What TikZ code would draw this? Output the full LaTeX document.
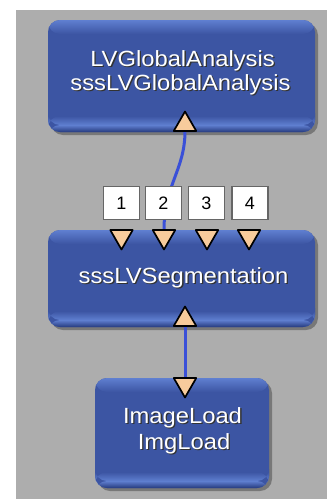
\documentclass[tikz,border=0pt]{standalone}
\usepackage{fontspec}
\newfontfamily\labfont[FakeStretch=1.08]{Liberation Sans}
\newfontfamily\numfont{Liberation Sans}
\usetikzlibrary{shapes.geometric,shadows,calc}
\definecolor{bg}{HTML}{ADADAD}
\definecolor{boxblue}{HTML}{3C55A3}
\definecolor{boxlight}{HTML}{5F7FD0}
\definecolor{boxdark}{HTML}{263A7E}
\definecolor{wire}{HTML}{3A50D8}
\definecolor{port}{HTML}{F7CB9C}
\newcommand\shtext[1]{\makebox[0pt][l]{\hspace{1.3pt}\raisebox{-1.3pt}{\color{black!80}#1}}#1}
\pgfdeclarelayer{back}
\pgfdeclarelayer{mid}
\pgfsetlayers{back,mid,main}
\begin{document}
\begin{tikzpicture}[x=1pt,y=-1pt,
  blockbox/.style={rectangle, rounded corners=12pt, inner sep=0pt, outer sep=0pt, fill=boxblue,
    drop shadow={shadow xshift=3pt, shadow yshift=-3pt, fill=black, opacity=0.3},
    path picture={
      \coordinate (nw) at (path picture bounding box.north west);
      \coordinate (se) at (path picture bounding box.south east);
      \shade[top color=boxlight, bottom color=boxblue] (nw) rectangle ($(nw -| se)+(0,-14pt)$);
      \shade[top color=boxblue, bottom color=boxlight] ($(nw |- se)+(0,16pt)$) rectangle ($(se)+(0,7pt)$);
      \shade[top color=boxlight, bottom color=boxdark] ($(nw |- se)+(0,7pt)$) rectangle (se);
    }},
  lbl/.style={font=\labfont\fontsize{22}{26}\selectfont, text=white, inner sep=0pt, anchor=base},
  numbox/.style={rectangle, fill=white, draw=black!60, line width=1.4pt, minimum width=36pt,
    minimum height=33pt, inner sep=0pt, font=\numfont\fontsize{18}{20}\selectfont},
  portup/.style={regular polygon, regular polygon sides=3, minimum size=26pt, inner sep=0pt,
    outer sep=0pt, fill=port, draw=black, line width=1.7pt, line join=round},
  portdown/.style={portup, rotate=180},
  wireline/.style={draw=wire, line width=3pt},
]
\begin{pgfonlayer}{back}
\useasboundingbox (0,0) rectangle (327,499);
\fill[white] (0,0) rectangle (327,499);
\fill[bg] (16,10) rectangle (327,499);
% blocks
\node[blockbox, minimum width=267pt, minimum height=112pt] (global) at (181.5,76) {};
\node[blockbox, minimum width=267pt, minimum height=97pt] (seg) at (181.5,278.5) {};
\node[blockbox, minimum width=174pt, minimum height=110pt] (load) at (182,433) {};
\end{pgfonlayer}

% texts
\node[lbl] (g1) at (182.5,66) {\shtext{LVGlobalAnalysis}};
\node[lbl] (g2) at (180.5,90) {\shtext{sssLVGlobalAnalysis}};
\node[lbl] (s1) at (183.5,283) {\shtext{sssLVSegmentation}};
\node[lbl] (l1) at (182.5,423) {\shtext{ImageLoad}};
\node[lbl] (l2) at (184,449) {\shtext{ImgLoad}};

% ports
\node[portup] (gout) at (185,124.5) {};
\node[portdown] (in1) at (121.5,236.5) {};
\node[portdown] (in2) at (164,236.5) {};
\node[portdown] (in3) at (207,236.5) {};
\node[portdown] (in4) at (249,236.5) {};
\node[portup] (sout) at (185,319.5) {};
\node[portdown] (lin) at (185,384.5) {};

% wires
\begin{pgfonlayer}{mid}
\draw[wireline] (gout.side 2) .. controls (185,170) and (164,185) .. (in2.side 2);
\draw[wireline] (sout.side 2) -- (lin.side 2);
\end{pgfonlayer}

% number boxes
\node[numbox] (n1) at (121.5,203) {1};
\node[numbox] (n2) at (163.5,203) {2};
\node[numbox] (n3) at (206.5,203) {3};
\node[numbox] (n4) at (250,203) {4};
\end{tikzpicture}
\end{document}
